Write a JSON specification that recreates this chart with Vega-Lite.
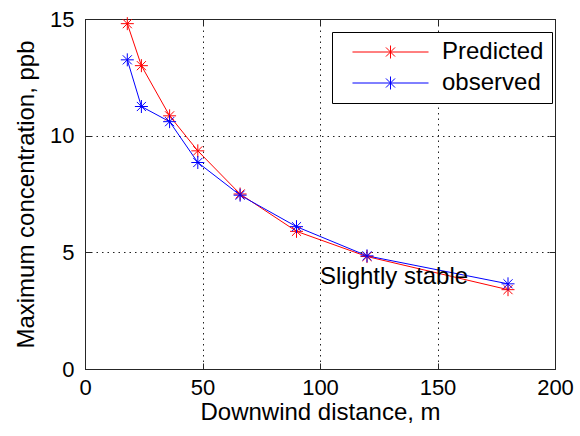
{
  "$schema": "https://vega.github.io/schema/vega-lite/v6.json",
  "width": 470,
  "height": 350,
  "autosize": "none",
  "padding": {"left": 85, "top": 19, "right": 25, "bottom": 67},
  "background": "#ffffff",
  "config": {
    "font": "Liberation Sans",
    "view": {"stroke": "#262626", "strokeWidth": 1},
    "axis": {
      "domainColor": "#262626",
      "tickColor": "#262626",
      "labelColor": "#000000",
      "titleColor": "#000000",
      "labelFont": "Liberation Sans",
      "titleFont": "Liberation Sans",
      "labelFontSize": 22,
      "titleFontSize": 24,
      "titleFontWeight": "normal",
      "gridColor": "#222222",
      "gridDash": [1.5, 4],
      "gridOpacity": 1,
      "gridWidth": 1,
      "tickSize": -6
    }
  },
  "datasets": {
    "series": [
      {"distance": 18, "conc": 14.8, "series": "Predicted"},
      {"distance": 24, "conc": 13.0, "series": "Predicted"},
      {"distance": 36, "conc": 10.85, "series": "Predicted"},
      {"distance": 48, "conc": 9.35, "series": "Predicted"},
      {"distance": 66, "conc": 7.5, "series": "Predicted"},
      {"distance": 90, "conc": 5.9, "series": "Predicted"},
      {"distance": 120, "conc": 4.82, "series": "Predicted"},
      {"distance": 180, "conc": 3.4, "series": "Predicted"},
      {"distance": 18, "conc": 13.25, "series": "observed"},
      {"distance": 24, "conc": 11.25, "series": "observed"},
      {"distance": 36, "conc": 10.6, "series": "observed"},
      {"distance": 48, "conc": 8.85, "series": "observed"},
      {"distance": 66, "conc": 7.45, "series": "observed"},
      {"distance": 90, "conc": 6.1, "series": "observed"},
      {"distance": 120, "conc": 4.85, "series": "observed"},
      {"distance": 180, "conc": 3.65, "series": "observed"}
    ],
    "note": [{"x": 100, "y": 3.95, "label": "Slightly stable"}]
  },
  "layer": [
    {
      "data": {"name": "series"},
      "mark": {"type": "line", "strokeWidth": 1},
      "encoding": {
        "x": {
          "field": "distance", "type": "quantitative",
          "scale": {"domain": [0, 200], "nice": false, "zero": false},
          "axis": {"orient": "bottom", "values": [0, 50, 100, 150, 200], "title": "Downwind distance, m", "grid": true, "labelFlush": false, "labelPadding": 14, "titlePadding": 2}
        },
        "y": {
          "field": "conc", "type": "quantitative",
          "scale": {"domain": [0, 15], "nice": false, "zero": false},
          "axis": {"orient": "left", "values": [0, 5, 10, 15], "title": "Maximum concentration, ppb", "grid": true, "labelPadding": 17, "titlePadding": 11}
        },
        "color": {
          "field": "series", "type": "nominal",
          "scale": {"domain": ["Predicted", "observed"], "range": ["#ff0000", "#0000ff"]},
          "legend": {
            "orient": "none", "legendX": 247, "legendY": 13, "title": null,
            "strokeColor": "#000000", "fillColor": "#ffffff", "padding": 8,
            "labelFontSize": 24, "labelFont": "Liberation Sans", "labelColor": "#000000",
            "symbolType": "M-5.85,0H5.85M0,-1V1M-0.7,-0.7L0.7,0.7M-0.7,0.7L0.7,-0.7",
            "symbolSize": 169, "symbolStrokeWidth": 1, "symbolFillColor": "transparent",
            "symbolOffset": 38.5, "labelOffset": 39.5, "rowPadding": 7
          }
        }
      }
    },
    {
      "data": {"name": "series"},
      "mark": {"type": "point", "shape": "M0,-1V1M-1,0H1M-0.7,-0.7L0.7,0.7M-0.7,0.7L0.7,-0.7", "size": 169, "filled": false, "strokeWidth": 1, "opacity": 1},
      "encoding": {
        "x": {
          "field": "distance", "type": "quantitative",
          "scale": {"domain": [0, 200], "nice": false, "zero": false},
          "axis": {"orient": "top", "values": [0, 50, 100, 150, 200], "title": null, "labels": false, "grid": false}
        },
        "y": {
          "field": "conc", "type": "quantitative",
          "scale": {"domain": [0, 15], "nice": false, "zero": false},
          "axis": {"orient": "right", "values": [0, 5, 10, 15], "title": null, "labels": false, "grid": false}
        },
        "color": {
          "field": "series", "type": "nominal",
          "scale": {"domain": ["Predicted", "observed"], "range": ["#ff0000", "#0000ff"]},
          "legend": {
            "orient": "none", "legendX": 247, "legendY": 13, "title": null,
            "strokeColor": "#000000", "fillColor": "#ffffff", "padding": 8,
            "labelFontSize": 24, "labelFont": "Liberation Sans", "labelColor": "#000000",
            "symbolType": "M-5.85,0H5.85M0,-1V1M-0.7,-0.7L0.7,0.7M-0.7,0.7L0.7,-0.7",
            "symbolSize": 169, "symbolStrokeWidth": 1, "symbolFillColor": "transparent",
            "symbolOffset": 38.5, "labelOffset": 39.5, "rowPadding": 7
          }
        }
      }
    },
    {
      "data": {"name": "note"},
      "mark": {"type": "text", "align": "left", "baseline": "middle", "fontSize": 24, "font": "Liberation Sans", "color": "#000000"},
      "encoding": {
        "x": {"field": "x", "type": "quantitative", "scale": {"domain": [0, 200], "nice": false, "zero": false}, "axis": null},
        "y": {"field": "y", "type": "quantitative", "scale": {"domain": [0, 15], "nice": false, "zero": false}, "axis": null},
        "text": {"field": "label"}
      }
    }
  ],
  "resolve": {"axis": {"x": "independent", "y": "independent"}}
}
